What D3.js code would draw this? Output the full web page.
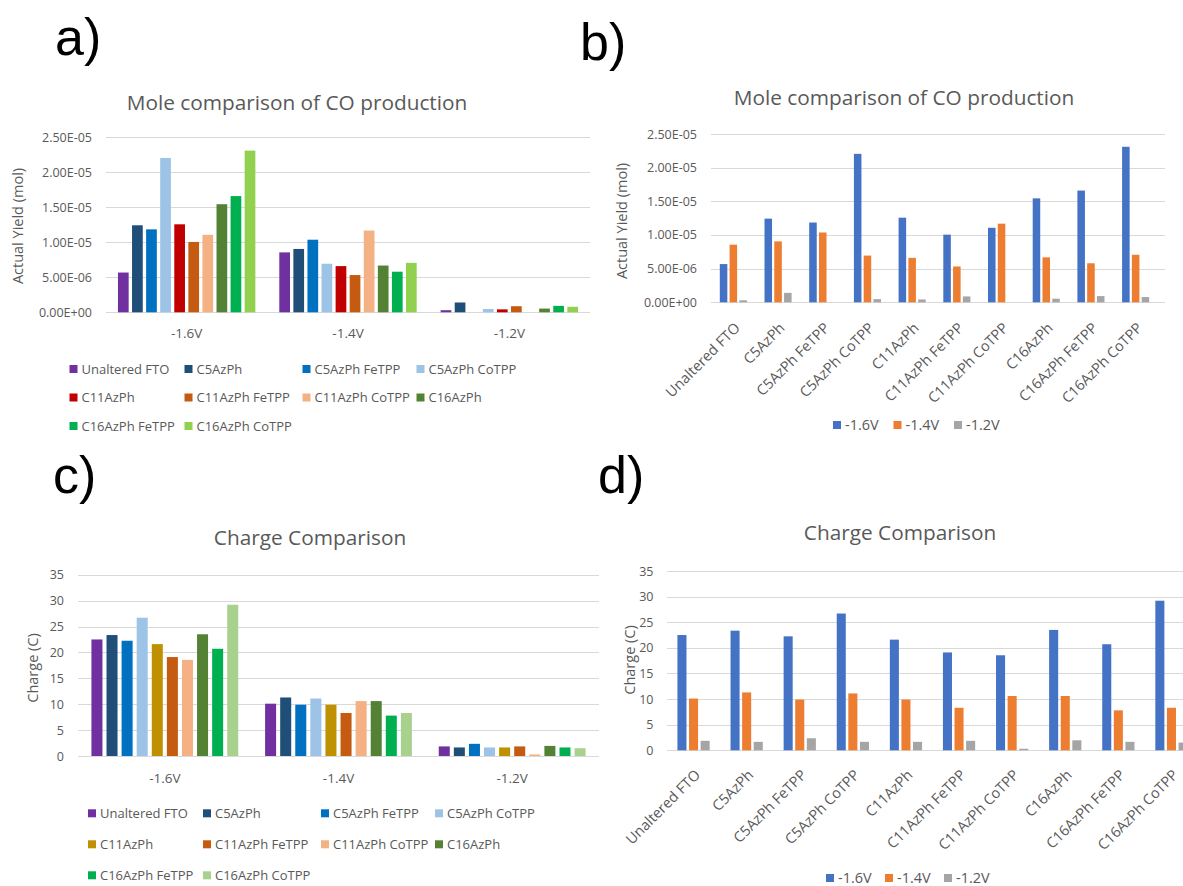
<!DOCTYPE html>
<html>
<head>
<meta charset="utf-8">
<script src="https://cdn.jsdelivr.net/npm/d3@7"></script>
<style>
  body { margin: 0; background: #fff; }
  svg text { font-family: "Open Sans", "Noto Sans", sans-serif; }
</style>
</head>
<body>
<script>
// ---- data ----
const voltages = ["-1.6V", "-1.4V", "-1.2V"];
const samples = ["Unaltered FTO", "C5AzPh", "C5AzPh FeTPP", "C5AzPh CoTPP", "C11AzPh",
                 "C11AzPh FeTPP", "C11AzPh CoTPP", "C16AzPh", "C16AzPh FeTPP", "C16AzPh CoTPP"];

// CO yield (mol) for each sample, one array per potential
const yieldAt16V = [5.68e-6, 12.43e-6, 11.85e-6, 22.05e-6, 12.57e-6, 10.05e-6, 11.07e-6, 15.44e-6, 16.6e-6, 23.1e-6];
const yieldAt14V = [8.56e-6, 9.05e-6, 10.37e-6, 6.94e-6, 6.6e-6, 5.32e-6, 11.68e-6, 6.68e-6, 5.8e-6, 7.06e-6];
const yieldAt12V = [0.3e-6, 1.4e-6, 0, 0.47e-6, 0.42e-6, 0.87e-6, 0, 0.53e-6, 0.92e-6, 0.78e-6];

// charge passed (C) for each sample, one array per potential
const chargeAt16V = [22.5, 23.35, 22.25, 26.7, 21.6, 19.1, 18.55, 23.5, 20.7, 29.2];
const chargeAt14V = [10.1, 11.3, 9.9, 11.1, 9.9, 8.3, 10.6, 10.6, 7.8, 8.3];
const chargeAt12V = [1.85, 1.65, 2.35, 1.65, 1.65, 1.85, 0.3, 1.95, 1.65, 1.5];

const yieldTickValues = [0, 5e-6, 1e-5, 1.5e-5, 2e-5, 2.5e-5];
const yieldTickLabels = ["0.00E+00", "5.00E-06", "1.00E-05", "1.50E-05", "2.00E-05", "2.50E-05"];
const chargeTickValues = [0, 5, 10, 15, 20, 25, 30, 35];

// ---- colours ----
const sampleColorsMole = ["#7030A0", "#1F4E79", "#0070C0", "#9DC3E6", "#C00000",
                          "#C55A11", "#F4B183", "#548235", "#00B050", "#92D050"];
const sampleColorsCharge = ["#7030A0", "#1F4E79", "#0070C0", "#9DC3E6", "#BF9000",
                            "#C55A11", "#F4B183", "#548235", "#00B050", "#A9D18E"];
const voltageColors = ["#4472C4", "#ED7D31", "#A5A5A5"];

const TEXT = "#595959";
const GRID = "#D9D9D9";

const yieldByVoltage = [yieldAt16V, yieldAt14V, yieldAt12V];
const chargeByVoltage = [chargeAt16V, chargeAt14V, chargeAt12V];

const svg = d3.select("body").append("svg")
  .attr("width", 1183).attr("height", 886)
  .style("display", "block");

// Clustered column chart: categories along x, one bar per series inside each band
function clusteredChart(p) {
  const g = svg.append("g");
  const x0 = d3.scaleBand().domain(p.categories).range(p.xRange);
  const x1 = d3.scaleBand().domain(p.series).range([0, x0.bandwidth()])
    .paddingInner(p.barGap).paddingOuter(p.groupPad);
  const y = d3.scaleLinear().domain(p.yDomain).range(p.yRange);

  // horizontal gridlines (the zero line doubles as the category axis)
  g.append("g").selectAll("line").data(p.yTicks).join("line")
    .attr("x1", p.xRange[0]).attr("x2", p.gridRight)
    .attr("y1", d => Math.round(y(d)) + 0.5).attr("y2", d => Math.round(y(d)) + 0.5)
    .attr("stroke", GRID).attr("stroke-width", 1.2);

  // value axis labels
  const ya = g.append("g").attr("transform", `translate(${p.xRange[0]},0)`)
    .call(d3.axisLeft(y).tickValues(p.yTicks).tickFormat(p.yFormat).tickSize(0).tickPadding(p.yPad));
  ya.select(".domain").remove();
  ya.selectAll("text").style("font-size", "12.5px").attr("fill", TEXT);

  // bars
  p.series.forEach((s, si) => {
    g.append("g").attr("fill", p.colors[si])
      .selectAll("rect")
      .data(p.categories.map((c, ci) => ({ c, v: p.value(si, ci) })))
      .join("rect")
      .attr("x", d => x0(d.c) + x1(s))
      .attr("y", d => y(d.v))
      .attr("width", x1.bandwidth())
      .attr("height", d => y(0) - y(d.v));
  });

  // category axis labels
  const xa = g.append("g").attr("transform", `translate(0,${p.yRange[0]})`)
    .call(d3.axisBottom(x0).tickSize(0));
  xa.select(".domain").remove();
  const xt = xa.selectAll("text").style("font-size", p.labelSize).attr("fill", TEXT);
  if (p.rotate) {
    xt.attr("text-anchor", "end").attr("x", 0).attr("y", 0).attr("dy", "0.35em")
      .attr("transform", `translate(${p.labelOffset[0]},${p.labelOffset[1]}) rotate(-45)`);
  } else {
    xt.attr("y", p.labelOffset[1]).attr("dy", "0.35em");
  }

  // chart title
  g.append("text").attr("x", p.title.x).attr("y", p.title.y)
    .attr("text-anchor", "middle").attr("fill", TEXT)
    .style("font-size", "20.8px").text(p.title.text);

  // value axis title
  g.append("text")
    .attr("transform", `translate(${p.yTitle.x},${p.yTitle.y}) rotate(-90)`)
    .attr("text-anchor", "middle").attr("dy", "0.35em").attr("fill", TEXT)
    .style("font-size", "14.5px").text(p.yTitle.text);

  // legend
  const lg = g.append("g");
  p.series.forEach((s, si) => {
    const pos = p.legendPos(si);
    const it = lg.append("g").attr("transform", `translate(${pos[0]},${pos[1]})`);
    it.append("rect").attr("x", 0).attr("y", -4).attr("width", 8).attr("height", 8)
      .attr("fill", p.colors[si]);
    it.append("text").attr("x", 12).attr("y", 0).attr("dy", "0.35em")
      .attr("fill", TEXT).style("font-size", p.legendSize).text(s);
  });
}

function panelLetter(text, x, y) {
  svg.append("text").attr("x", x).attr("y", y)
    .style("font-family", "'Liberation Sans', Arial, sans-serif")
    .style("font-size", "52px").attr("fill", "#000").text(text);
}

const yieldFormat = d => yieldTickLabels[yieldTickValues.indexOf(d)];
const legendCols = [0, 115, 233, 347];

// a) yield grouped by potential
clusteredChart({
  categories: voltages, series: samples, colors: sampleColorsMole,
  value: (si, ci) => yieldByVoltage[ci][si],
  xRange: [106, 590], gridRight: 590, barGap: 0.24, groupPad: 0.85,
  yDomain: [0, 2.5e-5], yRange: [312.3, 137.3], yTicks: yieldTickValues, yFormat: yieldFormat, yPad: 14,
  labelOffset: [0, 21], labelSize: "13.5px", legendSize: "13px",
  title: { text: "Mole comparison of CO production", x: 297, y: 110 },
  yTitle: { text: "Actual Yield (mol)", x: 18, y: 226 },
  legendPos: i => [69.5 + legendCols[i % 4], 369 + Math.floor(i / 4) * 28.5]
});

// b) yield grouped by sample
clusteredChart({
  categories: samples, series: voltages, colors: voltageColors,
  value: (si, ci) => yieldByVoltage[si][ci],
  xRange: [711, 1158], gridRight: 1165, barGap: 0.23, groupPad: 0.9,
  yDomain: [0, 2.5e-5], yRange: [302.3, 134], yTicks: yieldTickValues, yFormat: yieldFormat, yPad: 14,
  rotate: true, labelOffset: [4, 23], labelSize: "14.5px", legendSize: "14.5px",
  title: { text: "Mole comparison of CO production", x: 904, y: 105 },
  yTitle: { text: "Actual Yield (mol)", x: 621.7, y: 221 },
  legendPos: i => [833 + i * 60.5, 425]
});

// c) charge grouped by potential
clusteredChart({
  categories: voltages, series: samples, colors: sampleColorsCharge,
  value: (si, ci) => chargeByVoltage[ci][si],
  xRange: [78, 599], gridRight: 599, barGap: 0.27, groupPad: 0.89,
  yDomain: [0, 35], yRange: [756, 574.7], yTicks: chargeTickValues, yFormat: d3.format("d"), yPad: 14,
  labelOffset: [0, 22], labelSize: "13.5px", legendSize: "13px",
  title: { text: "Charge Comparison", x: 310, y: 545 },
  yTitle: { text: "Charge (C)", x: 33, y: 668 },
  legendPos: i => [88 + legendCols[i % 4], 813.3 + Math.floor(i / 4) * 31]
});

// d) charge grouped by sample
clusteredChart({
  categories: samples, series: voltages, colors: voltageColors,
  value: (si, ci) => chargeByVoltage[si][ci],
  xRange: [667, 1198], gridRight: 1198, barGap: 0.22, groupPad: 0.9,
  yDomain: [0, 35], yRange: [750.3, 571], yTicks: chargeTickValues, yFormat: d3.format("d"), yPad: 13.5,
  rotate: true, labelOffset: [4, 22], labelSize: "14.5px", legendSize: "14.5px",
  title: { text: "Charge Comparison", x: 900, y: 540 },
  yTitle: { text: "Charge (C)", x: 630, y: 660 },
  legendPos: i => [826 + i * 59, 878]
});

panelLetter("a)", 55, 55);
panelLetter("b)", 580, 60);
panelLetter("c)", 53, 493);
panelLetter("d)", 598, 493);
</script>
</body>
</html>
